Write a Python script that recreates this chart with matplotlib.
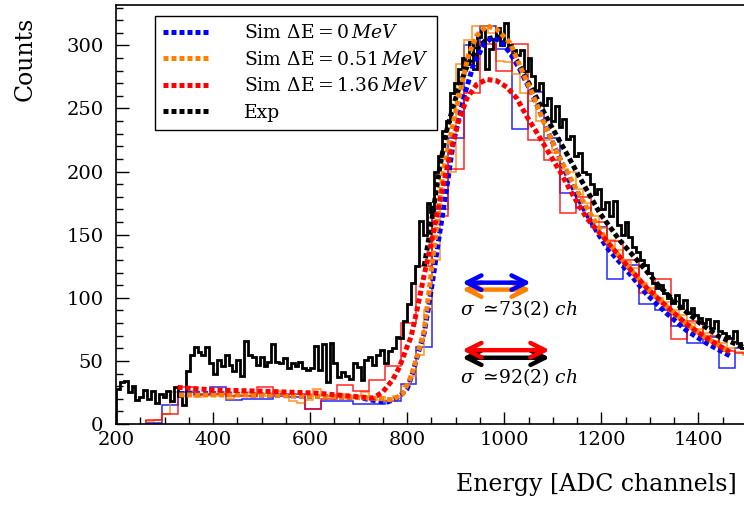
import numpy as np
import matplotlib
matplotlib.use("Agg")
import matplotlib.pyplot as plt
from matplotlib.ticker import MultipleLocator

plt.rcParams['font.family'] = ['DejaVu Serif']
plt.rcParams['mathtext.fontset'] = 'dejavuserif'

# experimental spectrum, 8 channel bins from 200
exp_edges = 8 * np.arange(25, 189)
exp_counts = [
    28, 33, 34, 25, 30, 19, 21, 27, 20, 26,
    17, 24, 21, 26, 18, 29, 22, 15, 42, 55,
    61, 57, 55, 61, 48, 40, 51, 46, 55, 47,
    42, 51, 38, 66, 55, 53, 47, 53, 46, 49,
    63, 49, 48, 52, 44, 48, 46, 49, 44, 43,
    44, 62, 43, 63, 33, 64, 48, 37, 41, 38,
    36, 48, 45, 35, 51, 53, 47, 55, 59, 48,
    58, 60, 69, 68, 82, 95, 112, 125, 161, 150,
    175, 168, 200, 212, 232, 240, 262, 270, 281, 290,
    285, 303, 281, 307, 312, 281, 297, 305, 314, 300,
    318, 300, 296, 292, 296, 280, 290, 276, 265, 270,
    253, 258, 240, 252, 235, 242, 226, 228, 212, 215,
    200, 198, 190, 182, 186, 170, 176, 165, 177, 158,
    150, 160, 148, 140, 136, 130, 126, 120, 112, 108,
    110, 104, 100, 96, 102, 92, 98, 88, 92, 86,
    84, 80, 83, 76, 82, 74, 72, 70, 68, 74,
    64, 60, 58,
]

# simulated spectra (4096/125 and 4096/250 channel bins)
sim_edges = 32.768 * np.arange(8, 47)
sim0_counts = [1, 15, 25, 23, 29, 19, 20, 20, 22, 21,
               12, 18, 18, 16, 16, 18, 32, 61, 170, 227,
               300, 315, 297, 234, 263, 227, 183, 171, 156, 115,
               126, 95, 90, 78, 64, 69, 44, 60]
sim136_counts = [3, 8, 29, 24, 24, 22, 22, 29, 24, 24,
                 12, 20, 31, 26, 35, 46, 80, 125, 165, 202,
                 262, 301, 280, 301, 225, 209, 167, 180, 160, 145,
                 130, 104, 115, 67, 82, 70, 58, 56]
sim051_edges = 16.384 * np.arange(16, 93)
sim051_counts = [2, 3, 8, 25, 22, 26, 21, 24, 22, 25,
                 20, 23, 25, 21, 24, 22, 26, 23, 18, 17,
                 19, 28, 22, 21, 24, 20, 22, 25, 19, 21,
                 18, 22, 30, 38, 55, 90, 130, 170, 200, 285,
                 304, 315, 315, 310, 288, 287, 277, 262, 256, 240,
                 225, 215, 202, 200, 186, 175, 165, 155, 146, 138,
                 128, 124, 112, 108, 100, 97, 90, 86, 80, 75,
                 72, 66, 64, 60, 57, 55]

# fitted curves
fit0_x = [330, 400, 500, 600, 700, 740, 760, 777, 790, 800, 811, 824, 835, 845, 855,
          864, 881, 895, 916, 936, 957, 974, 991, 1012, 1032, 1053, 1074, 1094, 1115,
          1135, 1163, 1190, 1211, 1252, 1293, 1335, 1376, 1417, 1465]
fit0_y = [24, 24, 23, 22, 21, 18, 17.5, 20, 24, 28, 40, 58, 72, 95, 120,
          144, 186, 223, 258, 284, 300, 306, 304, 294, 281, 265, 247, 228, 210,
          192, 171, 153, 140, 122, 103, 87.5, 74, 64, 54]
fit051_x = [330, 400, 500, 600, 700, 750, 770, 791, 808, 818, 828, 835, 845, 857,
            874, 895, 909, 926, 943, 964, 984, 1012, 1032, 1060, 1087, 1115, 1160,
            1211, 1252, 1293, 1335, 1376, 1417, 1465]
fit051_y = [23, 23, 23, 22, 21, 20, 19, 24, 37.5, 50.6, 64, 74, 105, 145,
            199, 239, 263, 292, 307.6, 315.5, 313, 302, 284, 260, 234, 210, 178,
            145, 126, 108, 93, 79, 68, 57]
fit136_x = [327, 400, 500, 612, 730, 750, 770, 784, 797, 808, 820, 835, 850, 861,
            874, 888, 905, 923, 943, 964, 984, 1005, 1026, 1046, 1067, 1087, 1115,
            1142, 1170, 1211, 1252, 1293, 1335, 1376, 1417, 1465]
fit136_y = [29, 27, 26, 24.5, 20.5, 25.5, 35, 45, 58.5, 69, 90, 118, 144, 165,
            189, 213, 239, 258, 269, 273, 272, 267, 258, 244, 231, 218, 200,
            181, 163, 145, 126, 108, 93, 79, 68, 57]
fitexp_x = [835, 845, 854, 868, 881, 895, 909, 925, 945, 965, 985, 1005, 1026, 1059,
            1094, 1129, 1156, 1197, 1238, 1280, 1321, 1362, 1403, 1444, 1491, 1500]
fitexp_y = [125, 148, 170, 205, 232, 252, 269, 285, 298, 305, 307, 300, 288, 264,
            238, 214, 195, 167, 145.5, 127, 108.6, 93, 80, 69, 61, 59]

c_blue = '#0000ff'
c_orange = '#ff8000'
c_red = '#ff0000'

fig = plt.figure(figsize=(7.44, 5.05), dpi=100)
ax = fig.add_axes([0.1559, 0.1604, 0.848, 0.8297])

ax.stairs(sim0_counts, sim_edges, color=c_blue, lw=1.1, alpha=0.85)
ax.stairs(sim051_counts, sim051_edges, color=c_orange, lw=1.1, alpha=0.85)
ax.stairs(sim136_counts, sim_edges, color=c_red, lw=1.1, alpha=0.85)
ax.stairs(exp_counts, exp_edges, color='black', lw=2)

dots = dict(lw=3.6, linestyle=(0, (1, 0.6)), dash_capstyle='butt')
l_exp, = ax.plot(fitexp_x, fitexp_y, color='black', **dots)
l0, = ax.plot(fit0_x, fit0_y, color=c_blue, **dots)
l051, = ax.plot(fit051_x, fit051_y, color=c_orange, **dots)
l136, = ax.plot(fit136_x, fit136_y, color=c_red, **dots)

# width arrows
def width_arrow(x0, x1, y, col):
    ax.annotate('', xy=(x1, y), xytext=(x0, y),
                arrowprops=dict(arrowstyle='<->', color=col, lw=3.2,
                                mutation_scale=26, shrinkA=0, shrinkB=0))

width_arrow(913, 1055, 106.5, c_orange)
width_arrow(913, 1055, 112, c_blue)
width_arrow(913, 1094, 52.5, 'black')
width_arrow(913, 1094, 58.5, c_red)
ax.text(909, 91, r'$\sigma\ \simeq\!73(2)\ ch$', fontsize=13.5, va='center', ha='left')
ax.text(909, 37, r'$\sigma\ \simeq\!92(2)\ ch$', fontsize=13.5, va='center', ha='left')

ax.set_xlim(200, 1500)
ax.set_ylim(0, 332)
ax.xaxis.set_major_locator(MultipleLocator(200))
ax.xaxis.set_minor_locator(MultipleLocator(50))
ax.yaxis.set_major_locator(MultipleLocator(50))
ax.yaxis.set_minor_locator(MultipleLocator(10))
ax.tick_params(which='both', direction='in', top=False, right=False, labelsize=14)
ax.tick_params(which='major', length=9, width=1)
ax.tick_params(which='minor', length=5, width=1)
ax.tick_params(axis='y', pad=9)
ax.tick_params(axis='x', pad=5)
for s in ax.spines.values():
    s.set_linewidth(1.2)

leg = ax.legend([l0, l051, l136, l_exp],
                [r'Sim $\mathrm{\Delta E} = 0\,MeV$',
                 r'Sim $\mathrm{\Delta E} = 0.51\,MeV$',
                 r'Sim $\mathrm{\Delta E} = 1.36\,MeV$',
                 'Exp'],
                loc='upper left', bbox_to_anchor=(0.0618, 0.9737), borderaxespad=0,
                fontsize=13.5, fancybox=False, framealpha=1, edgecolor='black',
                handlelength=2.5, handletextpad=1.8, borderpad=0.45, labelspacing=0.45)
leg.get_frame().set_linewidth(1)

fig.text(25 / 744, 1 - 17 / 505, 'Counts', rotation=90, ha='center', va='top', fontsize=17)
fig.text(737 / 744, 1 - 484 / 505, 'Energy [ADC channels]', ha='right', va='center', fontsize=17)

fig.savefig('out.png', dpi=100)
